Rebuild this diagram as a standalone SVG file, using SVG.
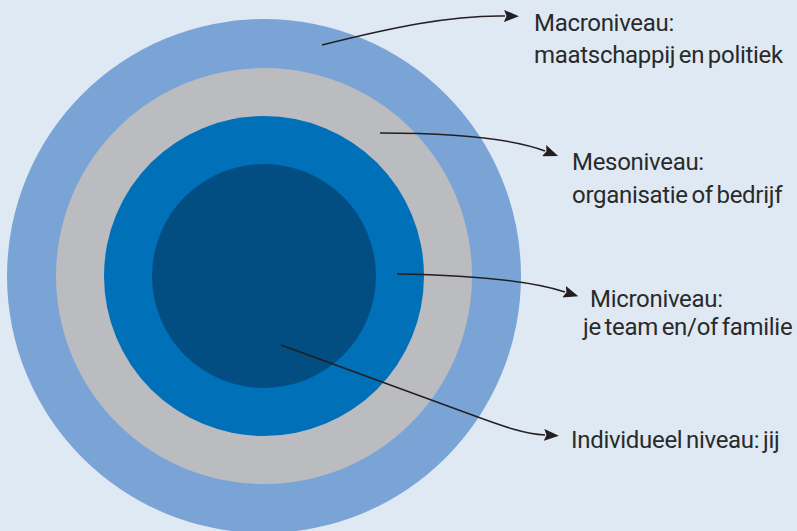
<svg xmlns="http://www.w3.org/2000/svg" width="797" height="531" viewBox="0 0 797 531">
  <style>
    .lbl { font-family: "Roboto", "Liberation Sans", sans-serif; font-size: 24px; fill: #2a2a2a; font-variant-ligatures: none; letter-spacing: -0.3px; word-spacing: -2px; }
    .conn { fill: none; stroke: #231f20; stroke-width: 1.5; }
  </style>
  <defs>
    <marker id="arrow" viewBox="0 0 15 12" refX="1" refY="6" markerWidth="15" markerHeight="12" markerUnits="userSpaceOnUse" orient="auto">
      <path d="M0,0 L15,6 L0,12 L2.5,6 Z" fill="#231f20"/>
    </marker>
  </defs>

  <rect width="797" height="531" fill="#dfe9f4"/>

  <!-- Concentric levels -->
  <g id="macro-ring"><circle cx="264" cy="276" r="257" fill="#7ba4d6"/></g>
  <g id="meso-ring"><circle cx="264" cy="276" r="208" fill="#bbbcc0"/></g>
  <g id="micro-ring"><circle cx="264" cy="276" r="160" fill="#0071b9"/></g>
  <g id="individual-core"><circle cx="264" cy="276" r="112" fill="#024d82"/></g>

  <!-- Connectors -->
  <g id="connectors">
    <path class="conn" marker-end="url(#arrow)" d="M322,45 C390,28 450,15 505,16"/>
    <path class="conn" marker-end="url(#arrow)" d="M380,133 C440,133 505,136 545,151"/>
    <path class="conn" marker-end="url(#arrow)" d="M397,274 C460,275 525,279 565,292"/>
    <path class="conn" marker-end="url(#arrow)" d="M281,345 L475,416 C505,427 525,434 545,435"/>
  </g>

  <!-- Labels -->
  <g id="label-macro">
    <text class="lbl" x="534" y="31">Macroniveau:</text>
    <text class="lbl" x="534" y="63">maatschappij en politiek</text>
  </g>
  <g id="label-meso">
    <text class="lbl" x="572" y="170">Mesoniveau:</text>
    <text class="lbl" x="572" y="203">organisatie of bedrijf</text>
  </g>
  <g id="label-micro">
    <text class="lbl" x="590" y="307">Microniveau:</text>
    <text class="lbl" x="583" y="335">je team en/of familie</text>
  </g>
  <g id="label-individual">
    <text class="lbl" x="571" y="448">Individueel niveau: jij</text>
  </g>
</svg>
